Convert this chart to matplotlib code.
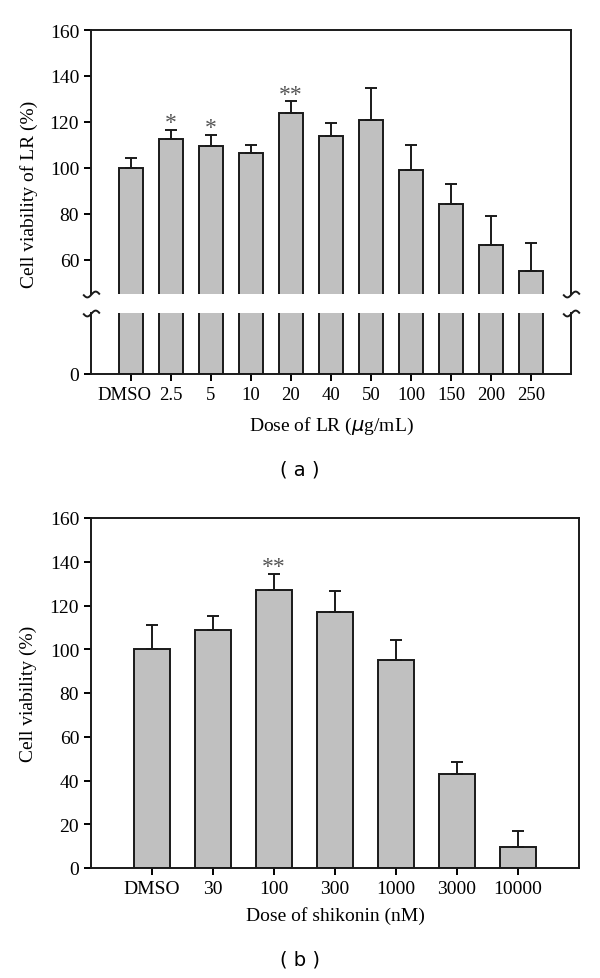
import matplotlib.pyplot as plt
import numpy as np
from matplotlib.path import Path
import matplotlib.transforms as mtransforms

plt.rcParams['font.family'] = ['Liberation Serif', 'DejaVu Serif']

# (a) LR
lr_doses = ['DMSO', '2.5', '5', '10', '20', '40', '50', '100', '150', '200', '250']
lr_means = [100.2, 112.6, 109.5, 106.6, 124.0, 113.8, 121.0, 99.3, 84.2, 66.5, 55.2]
lr_sd = [4.1, 3.9, 5.0, 3.5, 5.0, 5.8, 13.6, 10.7, 8.8, 12.8, 12.2]
lr_stars = ['', '*', '*', '', '**', '', '', '', '', '', '']

# (b) shikonin
sh_doses = ['DMSO', '30', '100', '300', '1000', '3000', '10000']
sh_means = [100.0, 108.9, 126.9, 116.9, 95.2, 42.8, 9.4]
sh_sd = [11.2, 6.4, 7.5, 9.6, 9.2, 5.8, 7.5]
sh_stars = ['', '', '**', '', '', '', '']

lw = 1.4
bar_kw = dict(width=0.6, color='#c0c0c0', edgecolor='#1a1a1a', linewidth=lw, zorder=2)
err_kw = dict(fmt='none', ecolor='#1a1a1a', elinewidth=lw, capsize=4, capthick=lw, zorder=3)
fs = 14

# break wiggle marker
t = np.linspace(-1, 1, 30)
wiggle = Path(np.column_stack([t, 0.35 * np.sin(np.pi * t)]))

fig = plt.figure(figsize=(6, 9.79), dpi=100)

# ---- panel a, upper part
x = np.arange(len(lr_doses))
ax1 = fig.add_axes([91/600, 1 - 295/979, 480/600, 264/979])
ax1.bar(x, lr_means, **bar_kw)
ax1.errorbar(x, lr_means, yerr=[np.zeros(len(x)), lr_sd], **err_kw)
for i, s in enumerate(lr_stars):
    if s:
        ax1.text(x[i], lr_means[i] + lr_sd[i] - 1.5, s, ha='center', va='bottom',
                 fontsize=17, color='#555555')
ax1.set_xlim(-1, 11)
ax1.set_ylim(45.2, 160)
ax1.set_yticks([60, 80, 100, 120, 140, 160])
ax1.spines['bottom'].set_visible(False)
ax1.tick_params(axis='x', bottom=False, labelbottom=False)
ax1.tick_params(axis='y', direction='out', length=5, width=lw, labelsize=fs)
ax1.set_ylabel('Cell viability of LR (%)', fontsize=fs)
ax1.yaxis.set_label_coords(-0.11, 0.38)

# ---- panel a, lower part
ax2 = fig.add_axes([91/600, 1 - 375/979, 480/600, 61/979])
ax2.bar(x, lr_means, **bar_kw)
ax2.set_xlim(-1, 11)
ax2.set_ylim(0, 10)
ax2.set_yticks([0])
ax2.spines['top'].set_visible(False)
ax2.set_xticks(x)
ax2.set_xticklabels(lr_doses)
ax2.tick_params(direction='out', length=5, width=lw, labelsize=fs)
ax2.tick_params(axis='x', labelsize=13.5)
# DMSO label sits a little left of its tick in the original
lab = ax2.get_xticklabels()[0]
lab.set_transform(lab.get_transform() + mtransforms.ScaledTranslation(-7/100, 0, fig.dpi_scale_trans))
ax2.set_xlabel(r'Dose of LR ($\mu$g/mL)', fontsize=fs, labelpad=9)

for ax in (ax1, ax2):
    for sp in ax.spines.values():
        sp.set_linewidth(lw)
        sp.set_color('#1a1a1a')

ax1.plot([0, 1], [0, 0], transform=ax1.transAxes, marker=wiggle, ms=12, ls='none',
         mfc='none', mec='#1a1a1a', mew=lw, clip_on=False)
ax2.plot([0, 1], [1, 1], transform=ax2.transAxes, marker=wiggle, ms=12, ls='none',
         mfc='none', mec='#1a1a1a', mew=lw, clip_on=False)

fig.text(0.5, 1 - 470/979, '( a )', ha='center', va='center', fontsize=14, family='DejaVu Sans')

# ---- panel b
xb = np.arange(len(sh_doses))
ax3 = fig.add_axes([91/600, 1 - 869/979, 488/600, 350/979])
ax3.bar(xb, sh_means, **bar_kw)
ax3.errorbar(xb, sh_means, yerr=[np.zeros(len(xb)), sh_sd], **err_kw)
for i, s in enumerate(sh_stars):
    if s:
        ax3.text(xb[i], sh_means[i] + sh_sd[i] - 1.5, s, ha='center', va='bottom',
                 fontsize=17, color='#555555')
ax3.set_xlim(-1, 7)
ax3.set_ylim(0, 160)
ax3.set_yticks(np.arange(0, 161, 20))
ax3.set_xticks(xb)
ax3.set_xticklabels(sh_doses)
ax3.tick_params(direction='out', length=5, width=lw, labelsize=fs)
ax3.set_ylabel('Cell viability (%)', fontsize=fs)
ax3.yaxis.set_label_coords(-0.11, 0.5)
ax3.set_xlabel('Dose of shikonin (nM)', fontsize=fs, labelpad=7)
for sp in ax3.spines.values():
    sp.set_linewidth(lw)
    sp.set_color('#1a1a1a')

fig.text(0.5, 1 - 960/979, '( b )', ha='center', va='center', fontsize=14, family='DejaVu Sans')

fig.savefig('out.png', dpi=100)
